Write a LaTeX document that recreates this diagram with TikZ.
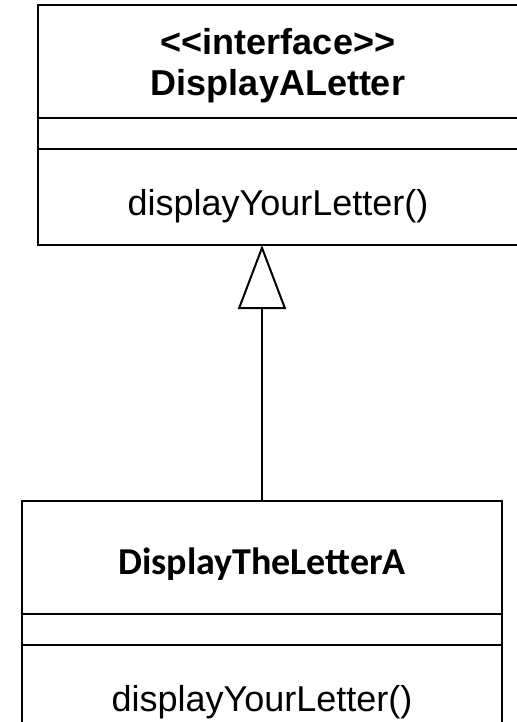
\documentclass[tikz,border=0pt]{standalone}
\usepackage{fontspec}
\newfontfamily\arialfont{Liberation Sans}
\newfontfamily\calibrifont{Carlito}
\usetikzlibrary{positioning,arrows.meta}
\tikzset{
  part/.style={draw, line width=1pt, outer sep=0pt, inner sep=0pt,
    minimum width=240pt, align=center,
    font=\arialfont\fontsize{18}{20.5}\selectfont},
  opspart/.style={part, minimum height=48pt, text height=18pt, text depth=0pt},
  inherit/.style={-{Triangle[open,length=32pt,width=24pt]}, line width=1pt}
}

\begin{document}
\begin{tikzpicture}[x=0.5pt,y=-0.5pt]
  \useasboundingbox (0,0) rectangle (517,722);
  \clip (0,0) rectangle (517,722);

  % interface
  \node[part, minimum height=56.5pt, text depth=0pt,
    font=\arialfont\bfseries\fontsize{18}{20.5}\selectfont] (iname) at (278,61.5)
    {<<interface>>\\DisplayALetter};
  \node[part, minimum height=15.5pt, below=0pt of iname] (iattr) {};
  \node[opspart, below=0pt of iattr] (iops) {displayYourLetter()};

  % class
  \node[part, minimum height=56.5pt, text height=16.5pt, text depth=0pt,
    font=\calibrifont\bfseries\fontsize{19}{22}\selectfont] (cname) at (262,557.5)
    {DisplayTheLetterA};
  \node[part, minimum height=15.5pt, below=0pt of cname] (cattr) {};
  \node[opspart, below=0pt of cattr] (cops) {displayYourLetter()};

  \draw[inherit] (cname.north) -- (cname.north |- iops.south);
\end{tikzpicture}
\end{document}
